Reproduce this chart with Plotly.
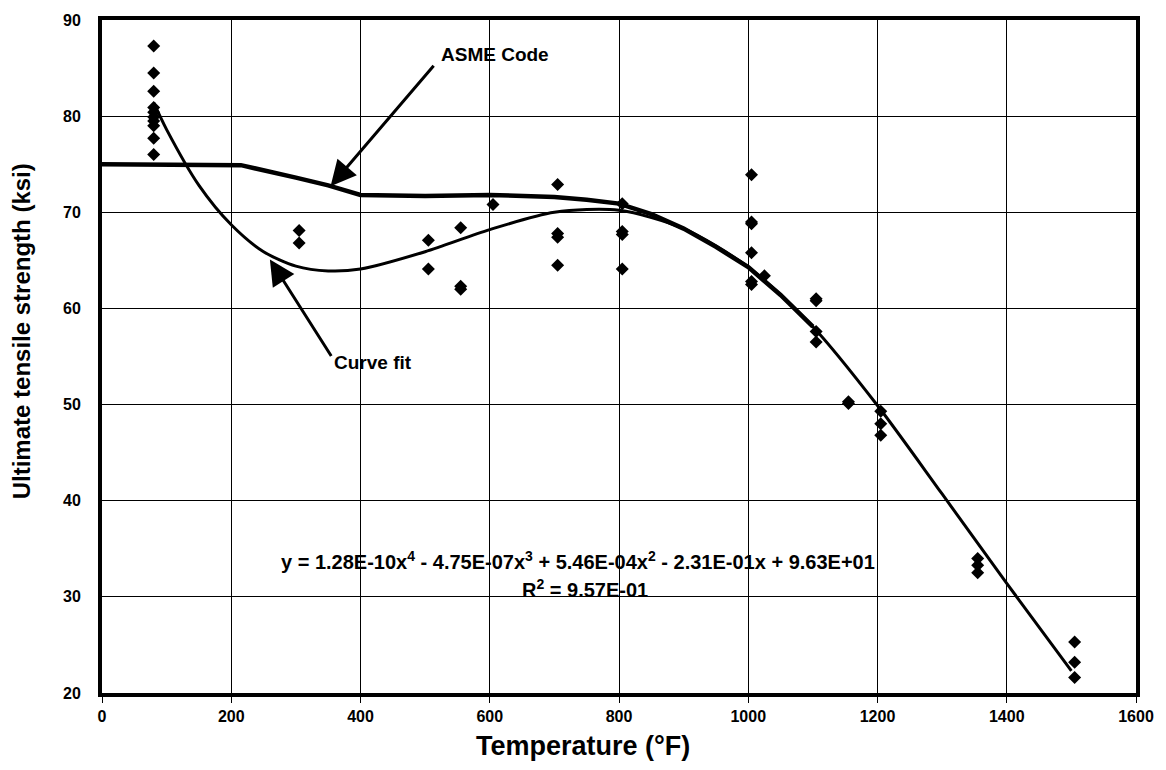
import plotly.graph_objects as go

# Measured data points (temperature °F, strength ksi)
temp_pts = [80, 80, 80, 80, 80, 80, 80, 80, 80, 80,
            305, 305,
            505, 505,
            555, 555, 555,
            605,
            705, 705, 705, 705,
            805, 805, 805, 805,
            1005, 1005, 1005, 1005, 1005, 1005,
            1025,
            1105, 1105, 1105, 1105,
            1155, 1155,
            1205, 1205, 1205,
            1355, 1355, 1355,
            1505, 1505, 1505]
uts_pts = [87.3, 84.5, 82.6, 80.9, 80.4, 79.9, 79.5, 79.0, 77.7, 76.0,
           68.1, 66.8,
           67.1, 64.1,
           68.4, 62.3, 62.0,
           70.8,
           72.9, 67.8, 67.4, 64.5,
           70.9, 68.0, 67.7, 64.1,
           73.9, 69.0, 68.8, 65.8, 62.8, 62.5,
           63.4,
           61.0, 60.8, 57.6, 56.5,
           50.3, 50.1,
           49.3, 48.0, 46.8,
           34.0, 33.3, 32.5,
           25.3, 23.2, 21.6]

# Curve fit line
fit_x = [80, 100, 150, 200, 250, 300, 350, 400, 500, 600, 700, 800, 900,
         1000, 1100, 1200, 1300, 1400, 1500]
fit_y = [81.4, 78.6, 72.8, 68.7, 65.9, 64.4, 63.9, 64.1, 65.9, 68.2, 70.0,
         70.2, 68.3, 64.3, 58.1, 49.9, 40.7, 31.4, 22.3]

# ASME Code line
asme_x = [0, 200, 215, 300, 350, 400, 500, 600, 700, 750, 800, 850, 900,
          950, 1000, 1050, 1100]
asme_y = [75.0, 75.0, 74.9, 73.6, 72.8, 71.8, 71.7, 71.8, 71.6, 71.3, 70.9,
          69.8, 68.3, 66.4, 64.3, 61.4, 58.1]

x_ticks = [0, 200, 400, 600, 800, 1000, 1200, 1400, 1600]
y_ticks = [20, 30, 40, 50, 60, 70, 80, 90]

FONT = "Arial, Liberation Sans, sans-serif"

fig = go.Figure()
fig.add_trace(go.Scatter(x=asme_x, y=asme_y, mode="lines",
                         line=dict(color="black", width=4.5),
                         showlegend=False, hoverinfo="skip"))
fig.add_trace(go.Scatter(x=fit_x, y=fit_y, mode="lines",
                         line=dict(color="black", width=3, shape="spline",
                                   smoothing=0.8),
                         showlegend=False, hoverinfo="skip"))
fig.add_trace(go.Scatter(x=temp_pts, y=uts_pts, mode="markers",
                         marker=dict(symbol="diamond", color="black", size=10),
                         showlegend=False))

annots = [
    dict(x=353.7, y=72.7, ax=515.2, ay=85.4, xref="x", yref="y",
         axref="x", ayref="y", text="", showarrow=True, arrowhead=2,
         arrowsize=1.7, arrowwidth=3, arrowcolor="black"),
    dict(x=522, y=86.4, xref="x", yref="y", text="<b>ASME Code</b>",
         showarrow=False, xanchor="left", yanchor="middle",
         font=dict(family=FONT, size=19, color="black")),
    dict(x=259.8, y=65.1, ax=356.2, ay=54.9, xref="x", yref="y",
         axref="x", ayref="y", text="", showarrow=True, arrowhead=2,
         arrowsize=1.7, arrowwidth=3, arrowcolor="black"),
    dict(x=356, y=54.4, xref="x", yref="y", text="<b>Curve fit</b>",
         showarrow=False, xanchor="left", yanchor="middle",
         font=dict(family=FONT, size=19, color="black")),
    dict(x=736, y=33.8, xref="x", yref="y",
         text="<b>y = 1.28E-10x<sup>4</sup> - 4.75E-07x<sup>3</sup> + 5.46E-04x<sup>2</sup> - 2.31E-01x + 9.63E+01</b>",
         showarrow=False, xanchor="center", yanchor="middle",
         font=dict(family=FONT, size=20, color="black")),
    dict(x=747, y=30.9, xref="x", yref="y",
         text="<b>R<sup>2</sup> = 9.57E-01</b>",
         showarrow=False, xanchor="center", yanchor="middle",
         font=dict(family=FONT, size=20, color="black")),
    # axis titles
    dict(x=0.465, y=-0.079, xref="paper", yref="paper",
         text="<b>Temperature (°F)</b>", showarrow=False,
         xanchor="center", yanchor="middle",
         font=dict(family=FONT, size=27, color="black")),
    dict(x=-0.077, y=0.538, xref="paper", yref="paper",
         text="<b>Ultimate tensile strength (ksi)</b>", showarrow=False,
         textangle=-90, xanchor="center", yanchor="middle",
         font=dict(family=FONT, size=24, color="black")),
]

fig.update_layout(
    width=1166, height=770,
    margin=dict(l=102, r=25, t=18, b=77),
    paper_bgcolor="white", plot_bgcolor="white",
    font=dict(family=FONT, color="black"),
    annotations=annots,
    showlegend=False,
)
fig.update_xaxes(range=[0, 1600], tickvals=x_ticks,
                 ticktext=[f"<b>{v}</b>" for v in x_ticks],
                 tickfont=dict(family=FONT, size=16, color="black"),
                 showgrid=True, gridcolor="black", gridwidth=1,
                 showline=True, linecolor="black", linewidth=4, mirror=True,
                 ticks="outside", ticklen=6, tickcolor="black", tickwidth=1,
                 zeroline=False)
fig.update_yaxes(range=[20, 90], tickvals=y_ticks,
                 ticktext=[f"<b>{v}</b>" for v in y_ticks],
                 tickfont=dict(family=FONT, size=16, color="black"),
                 showgrid=True, gridcolor="black", gridwidth=1,
                 showline=True, linecolor="black", linewidth=4, mirror=True,
                 ticks="outside", ticklen=14, tickcolor="rgba(0,0,0,0)",
                 zeroline=False)

fig.write_html("out.html")
